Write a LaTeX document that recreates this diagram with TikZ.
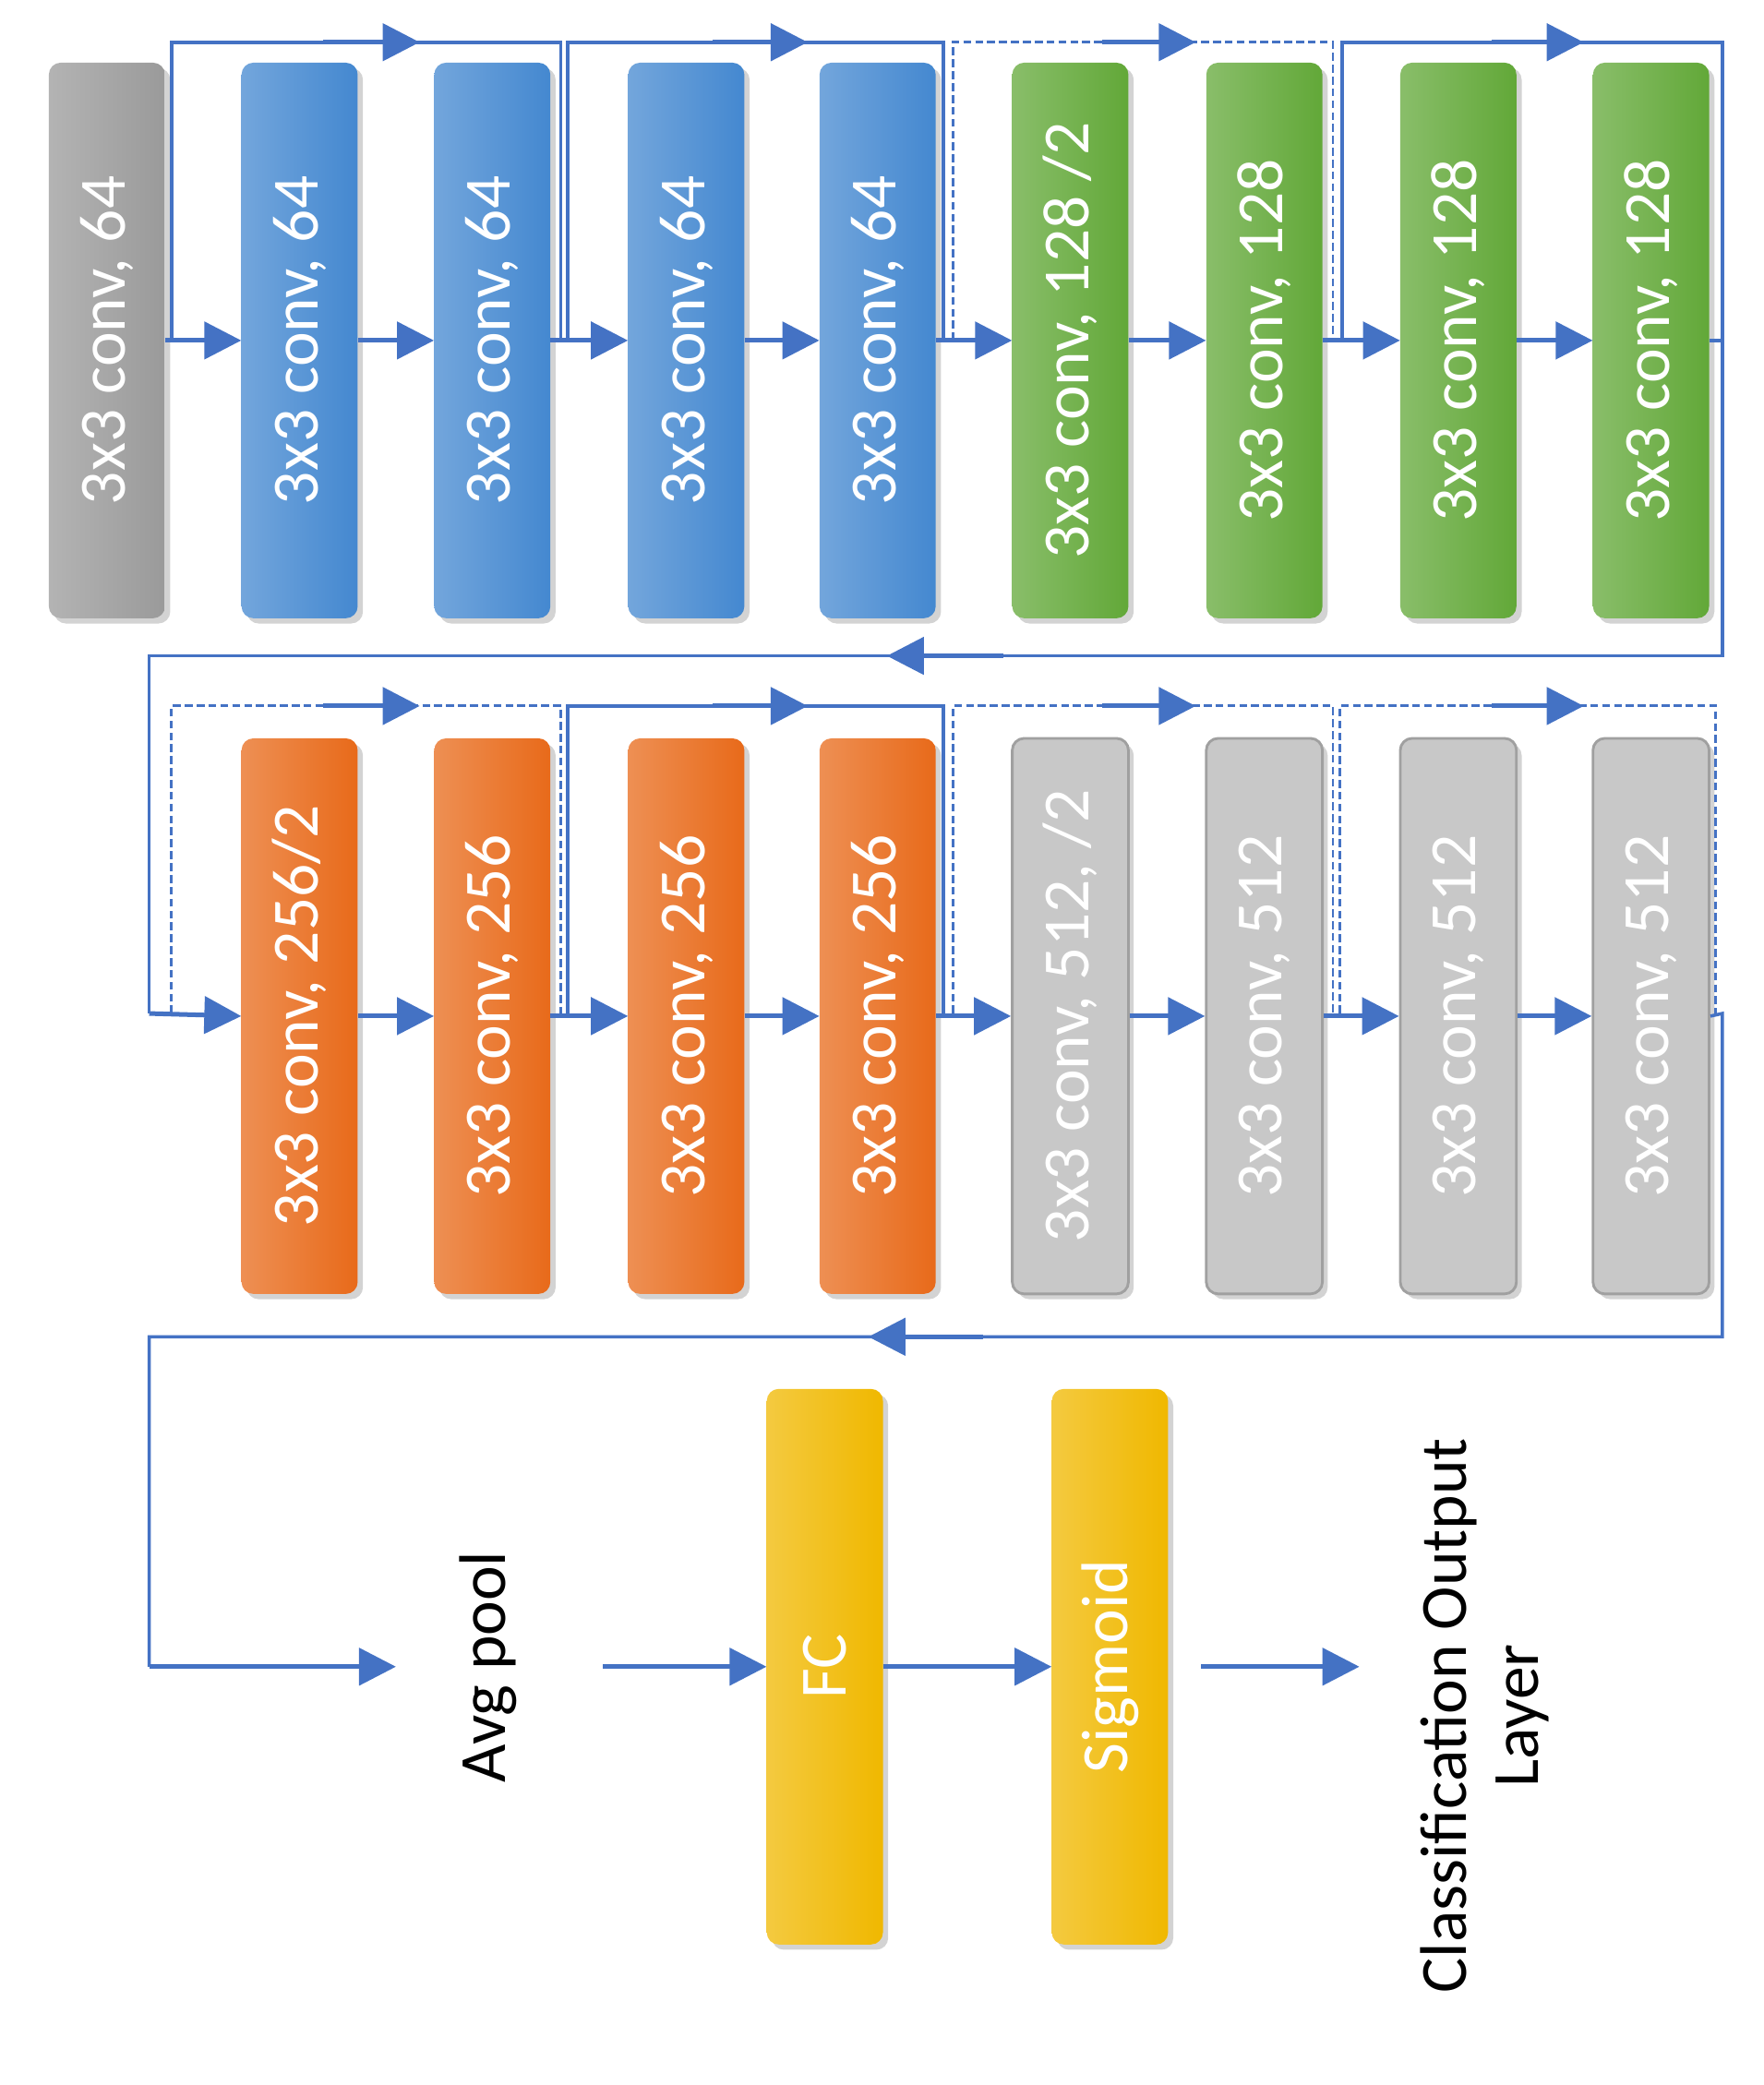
\documentclass[tikz,border=0pt]{standalone}
\usepackage{fontspec}
\setmainfont{Carlito}
\usetikzlibrary{arrows.meta,shadows}
\definecolor{ln}{HTML}{4472C4}
\definecolor{cgray}{HTML}{9A9A9A}
\definecolor{cblue}{HTML}{4488D0}
\definecolor{cgreen}{HTML}{62A838}
\definecolor{corange}{HTML}{E86A1A}
\definecolor{cyel}{HTML}{F0B800}
\definecolor{clg}{HTML}{C8C8C8}
\definecolor{clgd}{HTML}{A0A0A0}
\begin{document}
\begin{tikzpicture}[x=1pt,y=-1pt,
 box/.style={rotate=90,minimum width=421pt,minimum height=88pt,rounded corners=9pt,text=white,font=\fontsize{50}{54}\selectfont,inner sep=0pt,drop shadow={opacity=0.35,shadow xshift=4pt,shadow yshift=-4pt}},
 g1/.style={box,left color=#1!75!white,right color=#1},
 line/.style={draw=ln,line width=2.5pt},
 dline/.style={draw=ln,line width=2pt,dashed,dash pattern=on 6pt off 3pt},
 arr/.style={draw=ln,line width=3.5pt,-{Triangle[length=28pt,width=28pt]}},
 lab/.style={rotate=90,font=\fontsize{50}{54}\selectfont,align=center}]
\useasboundingbox (0,0) rectangle (1336,1580);
% row 1
\node[g1=cgray] (a1) at (81,258) {3x3 conv, 64};
\foreach \n/\x in {2/227,3/373,4/520,5/665}{\node[g1=cblue] (a\n) at (\x,258) {3x3 conv, 64};}
\node[g1=cgreen] (a6) at (811,258) {3x3 conv, 128 /2};
\foreach \n/\x in {7/958,8/1105,9/1251}{\node[g1=cgreen] (a\n) at (\x,258) {3x3 conv, 128};}
% row 2
\node[g1=corange] (b1) at (227,770) {3x3 conv, 256/2};
\foreach \n/\x in {2/373,3/520,4/665}{\node[g1=corange] (b\n) at (\x,770) {3x3 conv, 256};}
\node[box,fill=clg,draw=clgd,line width=2pt] (b5) at (811,770) {3x3 conv, 512, /2};
\foreach \n/\x in {6/958,7/1105,8/1251}{\node[box,fill=clg,draw=clgd,line width=2pt] (b\n) at (\x,770) {3x3 conv, 512};}
% row 3
\node[g1=cyel] (fc) at (625,1263) {FC};
\node[g1=cyel] (sg) at (841,1263) {Sigmoid};
\node[lab] (avg) at (370,1263) {Avg pool};
\node[lab] (out) at (1125,1300) {Classification Output\\Layer};
% main arrows
\foreach \a/\b in {1/2,2/3,3/4,4/5,5/6,6/7,7/8,8/9}{\draw[arr] (a\a.south) -- (a\b.north);}
\foreach \a/\b in {1/2,2/3,3/4,4/5,5/6,6/7,7/8}{\draw[arr] (b\a.south) -- (b\b.north);}
% skips row 1
\draw[line] (130,258) -- (130,32) -- (425,32) -- (425,258);
\draw[arr] (245,32) -- (318,32);
\draw[line] (430,258) -- (430,32) -- (715,32) -- (715,258);
\draw[arr] (540,32) -- (612,32);
\draw[dline] (722,258) -- (722,32) -- (1010,32) -- (1010,258);
\draw[arr] (835,32) -- (906,32);
\draw[line] (1017,258) -- (1017,32) -- (1305,32) -- (1305,258);
\draw[arr] (1130,32) -- (1200,32);
% row wrap
\draw[line] (a9.south) -- (1305,258) -- (1305,497) -- (113,497) -- (113,768);
\draw[arr] (760,497) -- (672,497);
\draw[arr] (113,768) -- (b1.north);
% skips row 2
\draw[dline] (130,768) -- (130,535) -- (425,535) -- (425,768);
\draw[arr] (245,535) -- (318,535);
\draw[line] (430,768) -- (430,535) -- (715,535) -- (715,768);
\draw[arr] (540,535) -- (612,535);
\draw[dline] (722,768) -- (722,535) -- (1010,535) -- (1010,768);
\draw[arr] (835,535) -- (906,535);
\draw[dline] (1015,768) -- (1015,535) -- (1300,535) -- (1300,768);
\draw[arr] (1130,535) -- (1200,535);
\draw[line] (b8.south) -- (1305,768) -- (1305,1013) -- (113,1013) -- (113,1263);
\draw[arr] (745,1013) -- (658,1013);
% row 3
\draw[arr] (113,1263) -- (300,1263);
\draw[arr] (457,1263) -- (fc.north);
\draw[arr] (fc.south) -- (sg.north);
\draw[arr] (910,1263) -- (1030,1263);
\end{tikzpicture}
\end{document}
